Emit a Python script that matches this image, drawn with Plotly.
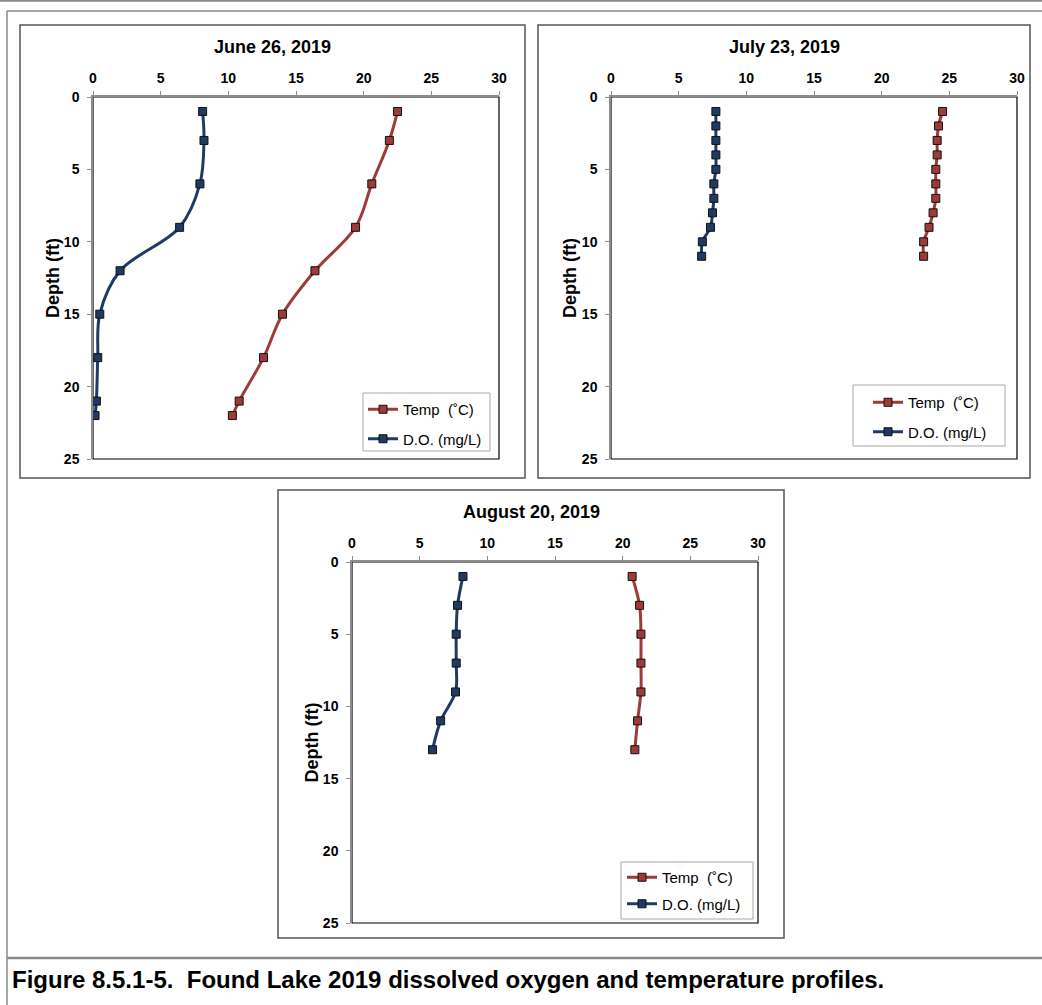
import plotly.graph_objects as go

# ---------------- data ----------------
june_depth = [1, 3, 6, 9, 12, 15, 18, 21, 22]
june_temp = [22.5, 21.9, 20.6, 19.4, 16.4, 14.0, 12.6, 10.8, 10.3]
june_do = [8.1, 8.2, 7.9, 6.4, 2.0, 0.5, 0.35, 0.25, 0.15]

july_depth = [1, 2, 3, 4, 5, 6, 7, 8, 9, 10, 11]
july_temp = [24.5, 24.2, 24.1, 24.1, 24.0, 24.0, 24.0, 23.8, 23.5, 23.1, 23.1]
july_do = [7.75, 7.75, 7.75, 7.75, 7.75, 7.6, 7.6, 7.5, 7.35, 6.75, 6.7]

aug_depth = [1, 3, 5, 7, 9, 11, 13]
aug_temp = [20.7, 21.25, 21.35, 21.35, 21.35, 21.1, 20.9]
aug_do = [8.2, 7.8, 7.7, 7.7, 7.65, 6.55, 5.95]

titles = ["June 26, 2019", "July 23, 2019", "August 20, 2019"]
temp_name = "Temp\u00a0 (\u02daC)"
do_name = "D.O. (mg/L)"
caption = "Figure 8.5.1-5.  Found Lake 2019 dissolved oxygen and temperature profiles."

W, H = 1042, 1005
FONT = "Arial, 'Liberation Sans', sans-serif"
TEMP_C = "#9E3A38"
DO_C = "#1F3A63"


def px(x):
    return x / W


def py(y):
    return 1 - y / H


# plot-area pixel boxes (x0, y0, x1, y1)
plots = [(93, 97, 499, 459), (611, 97, 1017, 459), (352, 562, 758, 923)]
chart_boxes = [(20, 25, 525, 478), (538, 25, 1030, 478), (278, 490, 784, 938)]
legend_boxes = [(363, 393, 490, 451), (853, 385, 1005, 446), (621, 862, 753, 919)]
legend_items = [(363, 393), (868, 386), (622, 861)]
depth_label_x = [53, 570, 311]

datasets = [(june_depth, june_temp, june_do), (july_depth, july_temp, july_do),
            (aug_depth, aug_temp, aug_do)]

fig = go.Figure()
shapes = []
annotations = []

# outer frame lines
shapes.append(dict(type="line", xref="paper", yref="paper", x0=0, x1=1, y0=py(0.8), y1=py(0.8),
                   line=dict(color="#8a8a8a", width=2)))
shapes.append(dict(type="line", xref="paper", yref="paper", x0=px(7), x1=1, y0=py(11), y1=py(11),
                   line=dict(color="#8a8a8a", width=1.5)))
shapes.append(dict(type="line", xref="paper", yref="paper", x0=px(7), x1=px(7), y0=py(11), y1=0,
                   line=dict(color="#8a8a8a", width=1.5)))
shapes.append(dict(type="line", xref="paper", yref="paper", x0=px(7), x1=1, y0=py(958), y1=py(958),
                   line=dict(color="#8a8a8a", width=2.5)))

for i, ((d, t, o), (x0, y0, x1, y1)) in enumerate(zip(datasets, plots)):
    n = "" if i == 0 else str(i + 1)
    leg = "legend" if i == 0 else "legend" + str(i + 1)
    fig.add_trace(go.Scatter(
        x=t, y=d, mode="lines+markers", name=temp_name, xaxis="x" + n, yaxis="y" + n,
        line=dict(color=TEMP_C, width=3, shape="spline", smoothing=1),
        marker=dict(symbol="square", size=8, color=TEMP_C, line=dict(color="#111", width=1)),
        legend=leg, legendgroup="t" + n))
    fig.add_trace(go.Scatter(
        x=o, y=d, mode="lines+markers", name=do_name, xaxis="x" + n, yaxis="y" + n,
        line=dict(color=DO_C, width=3, shape="spline", smoothing=1),
        marker=dict(symbol="square", size=8, color=DO_C, line=dict(color="#111", width=1)),
        legend=leg, legendgroup="d" + n))

    xa = dict(domain=[px(x0), px(x1)], range=[0, 30], dtick=5, side="top",
              anchor="y" + n, showgrid=False, zeroline=False, showline=True,
              linecolor="#8c8c8c", linewidth=1.5, ticks="outside", ticklen=4,
              tickcolor="#8c8c8c", ticklabelstandoff=3, automargin=False,
              tickfont=dict(family=FONT, size=14, color="black", weight="bold"))
    ya = dict(domain=[py(y1), py(y0)], range=[25, 0], dtick=5, anchor="x" + n,
              showgrid=False, zeroline=False, showline=True, linecolor="#8c8c8c",
              linewidth=1.5, ticks="outside", ticklen=4, tickcolor="#8c8c8c",
              ticklabelstandoff=5, automargin=False,
              tickfont=dict(family=FONT, size=14, color="black", weight="bold"))
    fig.update_layout({"xaxis" + n: xa, "yaxis" + n: ya})

    # plot area border (black right/bottom)
    shapes.append(dict(type="rect", xref="paper", yref="paper", x0=px(x0), x1=px(x1),
                       y0=py(y1), y1=py(y0), line=dict(color="black", width=1.2), layer="below"))
    # chart box
    cx0, cy0, cx1, cy1 = chart_boxes[i]
    shapes.append(dict(type="rect", xref="paper", yref="paper", x0=px(cx0), x1=px(cx1),
                       y0=py(cy1), y1=py(cy0), line=dict(color="#555555", width=1.5), layer="below"))
    # legend box
    lx0, ly0, lx1, ly1 = legend_boxes[i]
    shapes.append(dict(type="rect", xref="paper", yref="paper", x0=px(lx0), x1=px(lx1),
                       y0=py(ly1), y1=py(ly0), line=dict(color="#a8a8a8", width=1),
                       fillcolor="white", layer="below"))
    # title
    annotations.append(dict(xref="paper", yref="paper", x=px((cx0 + cx1) / 2), y=py(cy0 + 22),
                            text=titles[i], showarrow=False, xanchor="center", yanchor="middle",
                            font=dict(family=FONT, size=18, color="black", weight="bold")))
    # depth label
    annotations.append(dict(xref="paper", yref="paper", x=px(depth_label_x[i]), y=py((y0 + y1) / 2),
                            text="Depth (ft)", showarrow=False, textangle=-90,
                            xanchor="center", yanchor="middle",
                            font=dict(family=FONT, size=18, color="black", weight="bold")))
    ix, iy = legend_items[i]
    fig.update_layout({leg: dict(x=px(ix), y=py(iy), xanchor="left", yanchor="top",
                                 bgcolor="rgba(0,0,0,0)", borderwidth=0,
                                 tracegroupgap=7 if i < 2 else 4, itemwidth=30,
                                 font=dict(family=FONT, size=15, color="black"))})

annotations.append(dict(xref="paper", yref="paper", x=px(10), y=py(979), text=caption,
                        showarrow=False, xanchor="left", yanchor="middle",
                        font=dict(family=FONT, size=24, color="black", weight="bold")))

fig.update_layout(width=W, height=H, margin=dict(l=0, r=0, t=0, b=0, autoexpand=False),
                  paper_bgcolor="white", plot_bgcolor="white", showlegend=True,
                  shapes=shapes, annotations=annotations)

fig.write_html("out.html")
